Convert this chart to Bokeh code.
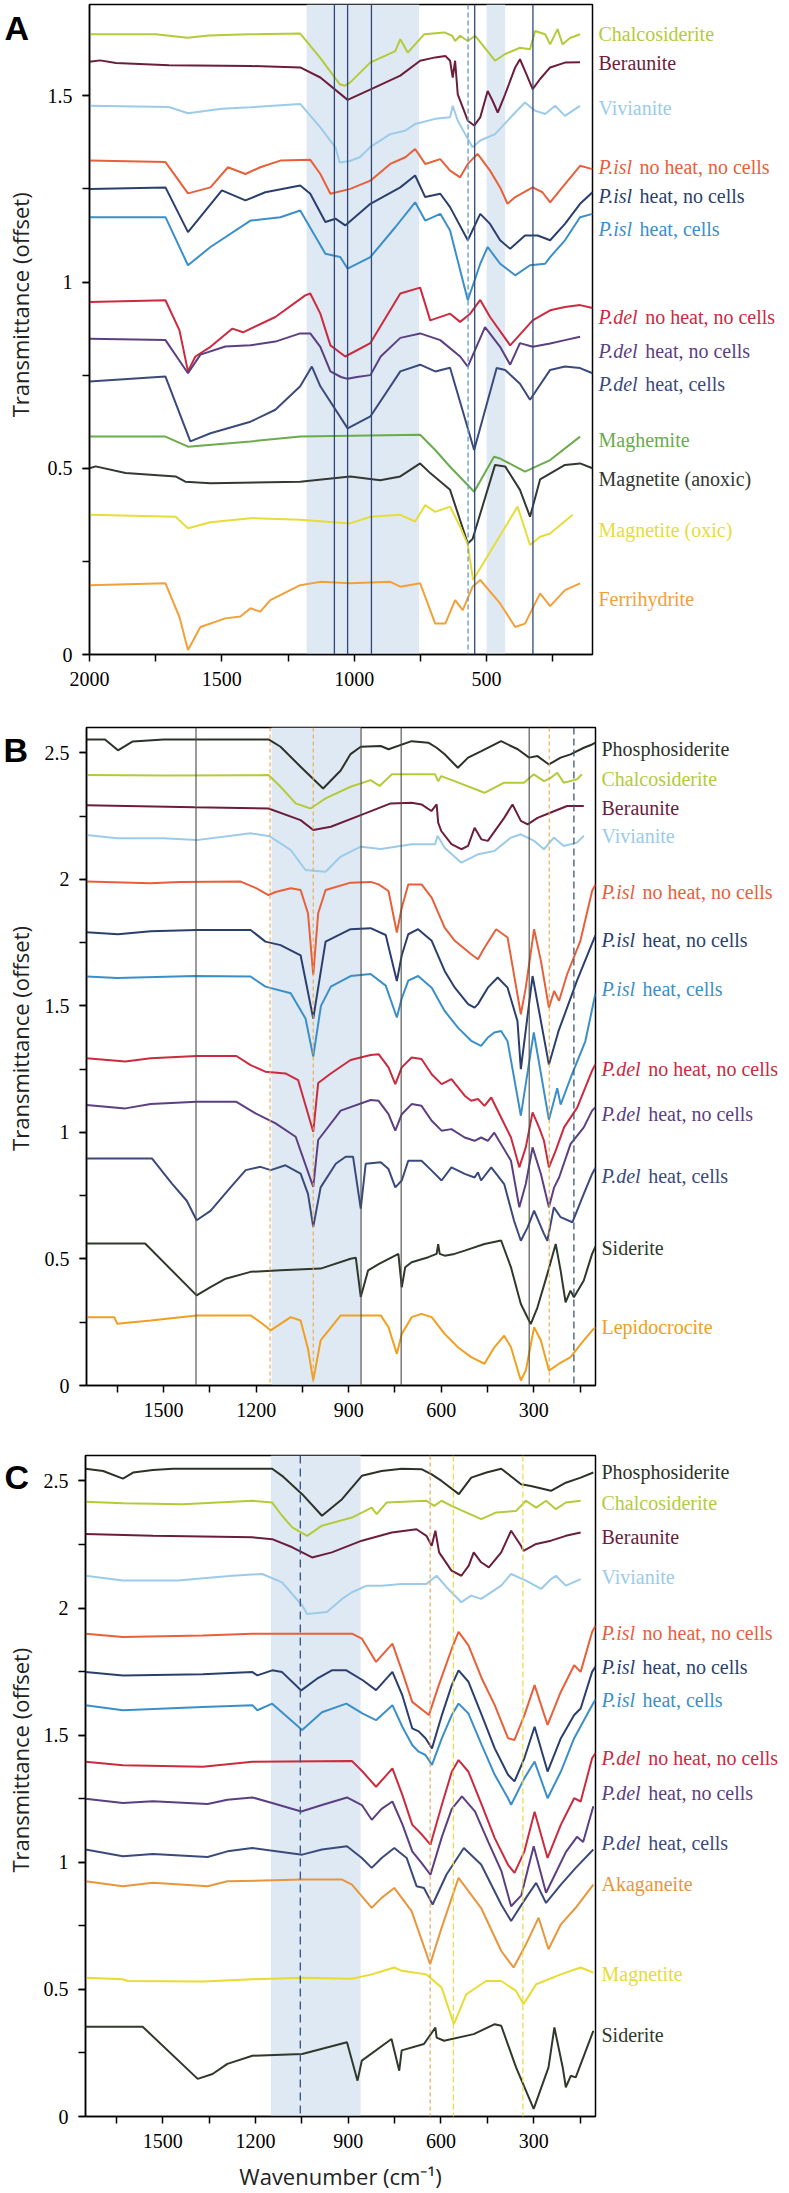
import math
from bokeh.plotting import figure
from bokeh.layouts import column, row
from bokeh.models import Range1d, FixedTicker, CustomJSTickFormatter, Span
from bokeh.core.properties import value
from bokeh.embed import file_html
from bokeh.resources import INLINE

# ======================= DATA (wavenumber cm-1, transmittance offset) =======================
# ---- Panel A ----
A_CHALCOSIDERITE = [(2000,1.665),(1750,1.665),(1630,1.656),(1550,1.662),(1400,1.665),(1204,1.667),(1130,1.603),(1055,1.531),(1035,1.527),(1015,1.536),(940,1.589),(845,1.62),(826,1.652),(798,1.616),(736,1.665),(660,1.670),(630,1.661),(619,1.647),(600,1.661),(571,1.647),(543,1.661),(468,1.594),(430,1.612),(374,1.629),(336,1.625),(317,1.674),(279,1.665),(260,1.638),(232,1.679),(213,1.638),(185,1.655),(147,1.665)]
A_BERAUNITE = [(2000,1.591),(1960,1.595),(1900,1.588),(1700,1.582),(1392,1.580),(1204,1.576),(1128,1.549),(1025,1.489),(936,1.518),(826,1.554),(751,1.594),(694,1.603),(656,1.607),(638,1.594),(628,1.549),(619,1.594),(609,1.504),(571,1.433),(547,1.42),(524,1.442),(496,1.513),(477,1.486),(458,1.455),(430,1.504),(392,1.576),(374,1.598),(355,1.567),(326,1.518),(298,1.545),(260,1.576),(204,1.589),(147,1.59)]
A_VIVIANITE = [(2000,1.473),(1700,1.47),(1628,1.453),(1500,1.465),(1392,1.469),(1204,1.478),(1128,1.415),(1070,1.36),(1055,1.321),(1017,1.325),(979,1.335),(940,1.362),(864,1.397),(808,1.406),(770,1.424),(694,1.438),(638,1.442),(628,1.473),(609,1.433),(581,1.397),(553,1.362),(524,1.38),(468,1.397),(392,1.455),(355,1.482),(317,1.46),(279,1.451),(241,1.473),(204,1.446),(166,1.464),(147,1.473)]
A_PISL_NOHEAT_NOCELLS = [(2000,1.326),(1713,1.322),(1628,1.238),(1543,1.254),(1477,1.308),(1411,1.29),(1355,1.308),(1279,1.326),(1166,1.328),(1128,1.29),(1090,1.237),(1015,1.25),(939,1.272),(864,1.317),(807,1.335),(770,1.357),(732,1.317),(675,1.33),(638,1.299),(600,1.281),(571,1.317),(534,1.344),(487,1.299),(449,1.254),(421,1.21),(392,1.228),(326,1.254),(289,1.241),(260,1.214),(204,1.263),(147,1.312),(100,1.303)]
A_PISL_HEAT_NOCELLS = [(2000,1.25),(1713,1.254),(1628,1.134),(1500,1.246),(1411,1.219),(1336,1.241),(1204,1.259),(1166,1.237),(1109,1.161),(1071,1.17),(1034,1.152),(939,1.21),(826,1.254),(770,1.286),(732,1.228),(675,1.237),(638,1.201),(571,1.112),(524,1.183),(487,1.156),(449,1.112),(411,1.089),(355,1.125),(307,1.125),(260,1.112),(204,1.156),(147,1.21),(100,1.241)]
A_PISL_HEAT_CELLS = [(2000,1.174),(1713,1.174),(1628,1.045),(1543,1.094),(1392,1.165),(1279,1.174),(1204,1.192),(1109,1.076),(1053,1.067),(1025,1.036),(939,1.067),(845,1.147),(770,1.214),(732,1.165),(675,1.183),(638,1.138),(571,0.951),(524,1.049),(496,1.094),(449,1.049),(392,1.018),(336,1.045),(279,1.049),(260,1.067),(204,1.112),(147,1.174),(100,1.183)]
A_PDEL_NOHEAT_NOCELLS = [(2000,0.946),(1713,0.951),(1660,0.87),(1628,0.76),(1600,0.80),(1543,0.826),(1460,0.875),(1420,0.865),(1298,0.906),(1185,0.964),(1166,0.969),(1128,0.915),(1090,0.83),(1034,0.80),(939,0.836),(826,0.969),(751,0.985),(713,0.897),(638,0.915),(600,0.893),(562,0.915),(524,0.952),(487,0.906),(411,0.83),(326,0.897),(260,0.924),(204,0.933),(147,0.938),(100,0.93)]
A_PDEL_HEAT_NOCELLS = [(2000,0.848),(1713,0.844),(1628,0.755),(1581,0.805),(1487,0.827),(1392,0.83),(1298,0.84),(1204,0.862),(1166,0.862),(1128,0.826),(1090,0.76),(1050,0.745),(1025,0.74),(990,0.745),(939,0.75),(900,0.80),(826,0.85),(751,0.862),(675,0.844),(600,0.80),(571,0.773),(506,0.879),(449,0.826),(411,0.778),(374,0.836),(326,0.826),(260,0.835),(204,0.844),(147,0.853)]
A_PDEL_HEAT_CELLS = [(2000,0.733),(1713,0.746),(1619,0.572),(1543,0.594),(1392,0.625),(1298,0.657),(1204,0.72),(1160,0.773),(1128,0.72),(1025,0.607),(939,0.639),(826,0.76),(751,0.778),(694,0.76),(638,0.77),(547,0.549),(462,0.769),(430,0.764),(374,0.727),(336,0.684),(260,0.764),(204,0.773),(147,0.769),(100,0.755)]
A_MAGHEMITE = [(2000,0.585),(1713,0.585),(1628,0.558),(1392,0.572),(1204,0.585),(751,0.59),(694,0.549),(638,0.504),(547,0.437),(472,0.531),(449,0.526),(355,0.491),(260,0.522),(147,0.585)]
A_MAGNETITE_ANOXIC = [(2000,0.5),(1977,0.505),(1864,0.487),(1675,0.478),(1638,0.464),(1543,0.46),(1204,0.464),(1015,0.478),(902,0.468),(826,0.478),(751,0.513),(713,0.487),(638,0.442),(571,0.298),(553,0.31),(468,0.509),(430,0.505),(374,0.442),(336,0.37),(298,0.47),(204,0.509),(147,0.513),(100,0.5)]
A_MAGNETITE_OXIC = [(2000,0.375),(1675,0.37),(1628,0.339),(1543,0.355),(1392,0.366),(1204,0.362),(1015,0.352),(939,0.37),(826,0.375),(770,0.357),(732,0.401),(694,0.383),(638,0.397),(600,0.343),(571,0.294),(551,0.20),(383,0.397),(336,0.294),(298,0.316),(260,0.325),(175,0.375)]
A_FERRIHYDRITE = [(2000,0.186),(1713,0.191),(1660,0.1),(1628,0.012),(1581,0.074),(1487,0.097),(1430,0.102),(1392,0.124),(1355,0.115),(1317,0.146),(1204,0.186),(1128,0.195),(1015,0.191),(864,0.195),(826,0.182),(751,0.191),(694,0.083),(656,0.083),(619,0.146),(590,0.119),(553,0.182),(524,0.2),(449,0.137),(392,0.074),(355,0.083),(298,0.164),(260,0.13),(204,0.173),(147,0.191)]

# ---- Panel B ----
B_PHOSPHOSIDERITE = [(1750,2.553),(1690,2.553),(1648,2.51),(1600,2.545),(1500,2.553),(1160,2.553),(1121,2.524),(1056,2.445),(983,2.359),(926,2.43),(894,2.495),(861,2.524),(796,2.527),(771,2.514),(696,2.546),(642,2.54),(615,2.52),(589,2.494),(546,2.441),(513,2.481),(470,2.507),(406,2.546),(352,2.514),(315,2.481),(288,2.487),(251,2.454),(213,2.481),(181,2.494),(138,2.520),(111,2.533),(100,2.54)]
B_CHALCOSIDERITE = [(1750,2.412),(1500,2.41),(1160,2.412),(1121,2.366),(1072,2.30),(1024,2.28),(975,2.32),(894,2.366),(829,2.392),(800,2.369),(760,2.415),(620,2.415),(610,2.388),(600,2.408),(557,2.388),(460,2.342),(396,2.382),(332,2.382),(300,2.415),(267,2.388),(246,2.40),(224,2.421),(203,2.382),(160,2.395),(144,2.415)]
B_BERAUNITE = [(1750,2.293),(1400,2.285),(1160,2.28),(1056,2.234),(1015,2.195),(958,2.208),(861,2.254),(764,2.30),(696,2.303),(664,2.296),(632,2.27),(615,2.296),(610,2.224),(600,2.191),(567,2.139),(535,2.119),(513,2.132),(492,2.204),(470,2.158),(449,2.152),(396,2.243),(369,2.296),(342,2.231),(320,2.217),(288,2.243),(245,2.264),(192,2.290),(138,2.29)]
B_VIVIANITE = [(1750,2.175),(1650,2.162),(1500,2.162),(1393,2.155),(1218,2.182),(1156,2.17),(1088,2.116),(1040,2.037),(975,2.03),(926,2.09),(861,2.129),(796,2.12),(696,2.139),(620,2.139),(612,2.172),(589,2.125),(535,2.066),(481,2.099),(428,2.112),(374,2.165),(342,2.178),(299,2.152),(267,2.119),(235,2.165),(203,2.132),(160,2.145),(138,2.172)]
B_PISL_NOHEAT_NOCELLS = [(1750,1.991),(1542,1.985),(1450,1.99),(1250,1.991),(1200,1.965),(1160,1.938),(1137,1.95),(1088,1.965),(1056,1.958),(1032,1.866),(1015,1.622),(999,1.866),(975,1.958),(894,1.987),(829,1.99),(803,1.98),(771,1.954),(744,1.79),(728,1.888),(707,1.98),(664,1.98),(631,1.928),(589,1.809),(556,1.757),(503,1.704),(481,1.684),(460,1.73),(422,1.803),(385,1.77),(342,1.467),(326,1.572),(299,1.803),(277,1.678),(251,1.493),(234,1.559),(218,1.52),(192,1.625),(149,1.757),(111,1.954),(100,1.98)]
B_PISL_HEAT_NOCELLS = [(1750,1.791),(1648,1.783),(1542,1.795),(1393,1.8),(1218,1.80),(1170,1.754),(1121,1.74),(1056,1.70),(1015,1.45),(975,1.754),(894,1.803),(829,1.807),(780,1.78),(744,1.598),(728,1.70),(707,1.783),(675,1.803),(631,1.757),(589,1.638),(556,1.572),(513,1.507),(492,1.493),(481,1.507),(449,1.572),(417,1.612),(385,1.572),(353,1.44),(342,1.25),(304,1.618),(251,1.268),(220,1.40),(160,1.60),(100,1.78)]
B_PISL_HEAT_CELLS = [(1750,1.616),(1650,1.61),(1400,1.618),(1218,1.616),(1170,1.576),(1088,1.55),(1040,1.45),(1015,1.30),(990,1.50),(958,1.576),(894,1.618),(829,1.626),(780,1.58),(744,1.454),(728,1.53),(707,1.60),(675,1.618),(631,1.572),(589,1.48),(546,1.414),(503,1.362),(471,1.342),(449,1.375),(428,1.395),(406,1.401),(385,1.36),(342,1.066),(300,1.395),(251,1.05),(224,1.175),(213,1.11),(176,1.23),(133,1.36),(100,1.55)]
B_PDEL_NOHEAT_NOCELLS = [(1750,1.293),(1624,1.28),(1542,1.293),(1393,1.302),(1264,1.302),(1218,1.266),(1170,1.24),(1105,1.233),(1064,1.207),(1015,1.003),(999,1.195),(958,1.233),(894,1.286),(829,1.306),(803,1.309),(771,1.257),(749,1.191),(728,1.257),(696,1.296),(664,1.29),(631,1.23),(599,1.191),(567,1.211),(524,1.145),(503,1.125),(481,1.132),(460,1.105),(438,1.138),(406,1.059),(374,0.98),(347,0.862),(326,0.941),(304,1.079),(283,1.02),(267,0.967),(251,0.862),(229,0.928),(202,1.02),(159,1.099),(111,1.244),(100,1.27)]
B_PDEL_HEAT_NOCELLS = [(1750,1.108),(1624,1.095),(1542,1.112),(1393,1.121),(1264,1.121),(1202,1.075),(1137,1.036),(1072,0.983),(1015,0.785),(999,0.97),(926,1.086),(829,1.128),(803,1.125),(771,1.072),(749,1.007),(728,1.072),(696,1.112),(664,1.105),(631,1.046),(599,1.007),(567,1.013),(524,0.98),(492,0.967),(471,0.98),(449,0.967),(428,0.999),(374,0.888),(347,0.704),(326,0.796),(304,0.941),(277,0.836),(251,0.704),(234,0.783),(218,0.822),(181,0.954),(138,1.02),(111,1.086),(100,1.10)]
B_PDEL_HEAT_CELLS = [(1750,0.897),(1600,0.897),(1538,0.897),(1473,0.798),(1425,0.73),(1393,0.653),(1348,0.69),(1283,0.783),(1234,0.851),(1186,0.864),(1153,0.851),(1105,0.87),(1056,0.837),(1032,0.757),(1015,0.627),(991,0.783),(942,0.876),(910,0.904),(886,0.904),(861,0.699),(845,0.876),(796,0.882),(771,0.855),(749,0.783),(728,0.81),(707,0.888),(664,0.888),(631,0.849),(599,0.81),(567,0.862),(524,0.836),(492,0.822),(481,0.842),(471,0.81),(438,0.862),(396,0.796),(364,0.651),(342,0.572),(320,0.625),(299,0.691),(267,0.599),(256,0.572),(235,0.704),(213,0.665),(175,0.645),(138,0.757),(111,0.836),(100,0.86)]
B_SIDERITE = [(1750,0.561),(1560,0.561),(1393,0.356),(1348,0.389),(1299,0.422),(1218,0.449),(1121,0.455),(991,0.462),(894,0.501),(877,0.505),(861,0.35),(837,0.455),(803,0.48),(739,0.52),(728,0.388),(717,0.467),(696,0.487),(642,0.507),(615,0.52),(610,0.559),(605,0.52),(589,0.513),(557,0.52),(524,0.533),(460,0.559),(406,0.573),(374,0.467),(342,0.322),(310,0.243),(288,0.309),(256,0.441),(229,0.559),(213,0.454),(197,0.329),(181,0.375),(170,0.349),(138,0.415),(111,0.52),(100,0.55)]
B_LEPIDOCROCITE = [(1750,0.27),(1660,0.27),(1650,0.244),(1542,0.257),(1393,0.277),(1218,0.277),(1186,0.25),(1153,0.218),(1088,0.27),(1056,0.257),(1032,0.145),(1015,0.02),(991,0.178),(926,0.277),(796,0.277),(771,0.23),(744,0.125),(728,0.204),(696,0.27),(664,0.283),(631,0.27),(589,0.204),(546,0.151),(503,0.112),(460,0.086),(428,0.151),(396,0.197),(374,0.151),(342,0.02),(326,0.059),(299,0.23),(277,0.178),(251,0.059),(218,0.086),(181,0.112),(138,0.178),(111,0.217),(100,0.23)]

# ---- Panel C ----
C_PHOSPHOSIDERITE = [(1750,2.548),(1693,2.539),(1629,2.509),(1596,2.533),(1532,2.543),(1468,2.548),(1146,2.548),(1114,2.52),(1049,2.448),(985,2.363),(920,2.428),(856,2.52),(792,2.539),(727,2.548),(663,2.546),(630,2.526),(598,2.5),(542,2.448),(502,2.513),(453,2.533),(405,2.548),(341,2.487),(309,2.48),(244,2.461),(196,2.493),(148,2.513),(107,2.533)]
C_CHALCOSIDERITE = [(1750,2.418),(1629,2.412),(1436,2.408),(1210,2.422),(1146,2.415),(1114,2.363),(1081,2.317),(1033,2.284),(985,2.324),(888,2.356),(824,2.395),(808,2.369),(776,2.415),(647,2.422),(622,2.402),(598,2.422),(566,2.402),(470,2.35),(421,2.376),(357,2.382),(325,2.422),(292,2.395),(260,2.422),(228,2.389),(196,2.415),(148,2.422)]
C_BERAUNITE = [(1750,2.291),(1532,2.284),(1210,2.278),(1146,2.271),(1081,2.239),(1017,2.199),(953,2.219),(856,2.265),(759,2.297),(679,2.31),(647,2.284),(630,2.245),(618,2.304),(606,2.219),(566,2.147),(534,2.127),(510,2.167),(494,2.219),(470,2.18),(445,2.16),(405,2.219),(373,2.304),(341,2.245),(333,2.225),(292,2.252),(244,2.265),(196,2.284),(148,2.297)]
C_VIVIANITE = [(1750,2.127),(1629,2.108),(1452,2.108),(1275,2.127),(1178,2.134),(1114,2.101),(1049,2.01),(1033,1.977),(969,1.984),(920,2.036),(888,2.062),(840,2.088),(792,2.088),(727,2.095),(647,2.095),(614,2.127),(582,2.082),(534,2.023),(502,2.049),(470,2.036),(405,2.088),(373,2.134),(325,2.108),(276,2.075),(244,2.114),(228,2.127),(196,2.088),(148,2.114)]
C_PISL_NOHEAT_NOCELLS = [(1750,1.899),(1629,1.886),(1371,1.892),(1210,1.899),(888,1.899),(856,1.88),(810,1.788),(757,1.86),(725,1.749),(693,1.631),(639,1.579),(607,1.697),(565,1.84),(543,1.906),(511,1.853),(468,1.723),(426,1.618),(383,1.488),(362,1.481),(330,1.579),(297,1.697),(255,1.54),(212,1.671),(169,1.775),(148,1.749),(111,1.906),(100,1.93)]
C_PISL_HEAT_NOCELLS = [(1750,1.748),(1629,1.735),(1371,1.74),(1210,1.748),(1194,1.735),(1146,1.755),(1114,1.748),(1052,1.676),(1001,1.722),(953,1.755),(906,1.755),(853,1.716),(810,1.677),(757,1.749),(725,1.657),(693,1.527),(672,1.515),(650,1.488),(629,1.448),(597,1.579),(565,1.697),(543,1.755),(511,1.71),(468,1.579),(426,1.448),(383,1.344),(362,1.318),(330,1.41),(297,1.533),(255,1.357),(212,1.488),(169,1.579),(148,1.605),(111,1.749),(100,1.77)]
C_PISL_HEAT_CELLS = [(1750,1.618),(1629,1.598),(1371,1.611),(1210,1.618),(1194,1.598),(1146,1.624),(1049,1.52),(985,1.59),(920,1.618),(906,1.624),(853,1.585),(810,1.559),(757,1.618),(725,1.533),(693,1.461),(672,1.435),(650,1.422),(629,1.383),(597,1.488),(565,1.579),(543,1.624),(511,1.585),(468,1.461),(426,1.344),(383,1.252),(373,1.226),(330,1.331),(297,1.396),(255,1.252),(212,1.357),(169,1.488),(111,1.618),(100,1.64)]
C_PDEL_NOHEAT_NOCELLS = [(1750,1.395),(1629,1.382),(1371,1.376),(1210,1.395),(888,1.398),(853,1.356),(810,1.297),(757,1.369),(725,1.265),(693,1.148),(661,1.108),(634,1.069),(597,1.226),(565,1.356),(543,1.402),(511,1.356),(468,1.226),(426,1.095),(383,0.99),(362,0.958),(330,1.043),(297,1.199),(255,1.017),(212,1.148),(169,1.252),(148,1.239),(111,1.409),(100,1.43)]
C_PDEL_HEAT_NOCELLS = [(1750,1.25),(1629,1.233),(1532,1.24),(1355,1.229),(1291,1.246),(1210,1.255),(1146,1.233),(1052,1.2),(985,1.225),(904,1.255),(856,1.225),(824,1.167),(792,1.21),(757,1.239),(725,1.15),(693,1.043),(661,0.995),(634,0.951),(597,1.10),(565,1.21),(532,1.259),(490,1.20),(447,1.08),(404,0.964),(373,0.827),(340,0.87),(300,1.063),(260,0.88),(228,0.96),(196,1.04),(160,1.10),(140,1.08),(107,1.22)]
C_PDEL_HEAT_CELLS = [(1750,1.05),(1629,1.024),(1532,1.033),(1355,1.021),(1291,1.043),(1210,1.056),(1049,1.03),(985,1.05),(904,1.063),(856,1.017),(824,0.978),(792,1.017),(751,1.056),(711,1.017),(679,0.906),(655,0.899),(627,0.834),(582,0.952),(526,1.056),(470,0.991),(405,0.834),(373,0.769),(325,0.86),(292,0.919),(260,0.84),(212,0.912),(164,0.978),(107,1.05)]
C_AKAGANEITE = [(1750,0.925),(1629,0.906),(1532,0.919),(1355,0.906),(1291,0.925),(1049,0.932),(920,0.932),(888,0.912),(824,0.821),(792,0.86),(751,0.899),(695,0.808),(635,0.599),(598,0.742),(543,0.939),(470,0.82),(405,0.651),(365,0.586),(325,0.677),(284,0.782),(252,0.658),(212,0.756),(164,0.821),(107,0.912)]
C_MAGNETITE = [(1750,0.546),(1629,0.54),(1613,0.533),(1371,0.531),(1210,0.54),(1049,0.546),(888,0.542),(824,0.559),(751,0.586),(727,0.573),(647,0.559),(598,0.507),(558,0.363),(518,0.481),(454,0.533),(405,0.533),(357,0.494),(333,0.442),(292,0.52),(212,0.559),(148,0.586),(107,0.566)]
C_SIDERITE = [(1750,0.353),(1565,0.353),(1387,0.148),(1339,0.167),(1291,0.207),(1210,0.239),(1049,0.246),(904,0.292),(870,0.141),(856,0.22),(760,0.305),(735,0.18),(727,0.26),(655,0.285),(618,0.35),(614,0.31),(590,0.298),(494,0.324),(426,0.363),(405,0.357),(357,0.193),(300,0.03),(252,0.193),(233,0.35),(206,0.193),(196,0.115),(180,0.16),(164,0.154),(107,0.337)]

# shaded bands (wavenumber ranges) and marker lines
A_BANDS = [(1180, 755), (500, 430)]
A_SOLID_LINES = [1075, 1025, 935, 545, 325]
A_DASHED_LINES = [570]
B_BANDS = [(1150, 860)]
B_SOLID_LINES = [1395, 860, 730, 315]
B_ORANGE_DASHED = [1155, 1015, 250]
B_BLUE_DASHED = [170]
C_BANDS = [(1150, 860)]
C_BLUE_DASHED = [1055]
C_ORANGE_DASHED = [635]
C_YELLOW_DASHED = [560, 335]

# ======================= STYLE =======================
COL = {
    "chalco": "#b3cb3b", "beraun": "#6c1d3b", "vivian": "#9ccbea",
    "pisl1": "#e8603a", "pisl2": "#2b3f6e", "pisl3": "#3b8fc9",
    "pdel1": "#cc2a3f", "pdel2": "#5c3f82", "pdel3": "#3b4a7c",
    "maghem": "#6aab4c", "magan": "#323832", "magox": "#e6dc3a", "ferri": "#f2a03a",
    "phos": "#2d3229", "sider": "#2f392a", "lepido": "#f0a020", "akag": "#e8963c",
    "magc": "#e8dc30",
}
BAND_COLOR = "#dfe9f3"

A_SERIES = [
    ("", "Chalcosiderite", A_CHALCOSIDERITE, "chalco", 1.667),
    ("", "Beraunite", A_BERAUNITE, "beraun", 1.587),
    ("", "Vivianite", A_VIVIANITE, "vivian", 1.466),
    ("P.isl", "no heat, no cells", A_PISL_NOHEAT_NOCELLS, "pisl1", 1.308),
    ("P.isl", "heat, no cells", A_PISL_HEAT_NOCELLS, "pisl2", 1.231),
    ("P.isl", "heat, cells", A_PISL_HEAT_CELLS, "pisl3", 1.142),
    ("P.del", "no heat, no cells", A_PDEL_NOHEAT_NOCELLS, "pdel1", 0.906),
    ("P.del", "heat, no cells", A_PDEL_HEAT_NOCELLS, "pdel2", 0.815),
    ("P.del", "heat, cells", A_PDEL_HEAT_CELLS, "pdel3", 0.727),
    ("", "Maghemite", A_MAGHEMITE, "maghem", 0.576),
    ("", "Magnetite (anoxic)", A_MAGNETITE_ANOXIC, "magan", 0.472),
    ("", "Magnetite (oxic)", A_MAGNETITE_OXIC, "magox", 0.335),
    ("", "Ferrihydrite", A_FERRIHYDRITE, "ferri", 0.150),
]
B_SERIES = [
    ("", "Phosphosiderite", B_PHOSPHOSIDERITE, "phos", 2.516),
    ("", "Chalcosiderite", B_CHALCOSIDERITE, "chalco", 2.396),
    ("", "Beraunite", B_BERAUNITE, "beraun", 2.283),
    ("", "Vivianite", B_VIVIANITE, "vivian", 2.171),
    ("P.isl", "no heat, no cells", B_PISL_NOHEAT_NOCELLS, "pisl1", 1.950),
    ("P.isl", "heat, no cells", B_PISL_HEAT_NOCELLS, "pisl2", 1.761),
    ("P.isl", "heat, cells", B_PISL_HEAT_CELLS, "pisl3", 1.568),
    ("P.del", "no heat, no cells", B_PDEL_NOHEAT_NOCELLS, "pdel1", 1.250),
    ("P.del", "heat, no cells", B_PDEL_HEAT_NOCELLS, "pdel2", 1.072),
    ("P.del", "heat, cells", B_PDEL_HEAT_CELLS, "pdel3", 0.829),
    ("", "Siderite", B_SIDERITE, "sider", 0.543),
    ("", "Lepidocrocite", B_LEPIDOCROCITE, "lepido", 0.233),
]
C_SERIES = [
    ("", "Phosphosiderite", C_PHOSPHOSIDERITE, "phos", 2.534),
    ("", "Chalcosiderite", C_CHALCOSIDERITE, "chalco", 2.413),
    ("", "Beraunite", C_BERAUNITE, "beraun", 2.280),
    ("", "Vivianite", C_VIVIANITE, "vivian", 2.123),
    ("P.isl", "no heat, no cells", C_PISL_NOHEAT_NOCELLS, "pisl1", 1.901),
    ("P.isl", "heat, no cells", C_PISL_HEAT_NOCELLS, "pisl2", 1.770),
    ("P.isl", "heat, cells", C_PISL_HEAT_CELLS, "pisl3", 1.639),
    ("P.del", "no heat, no cells", C_PDEL_NOHEAT_NOCELLS, "pdel1", 1.409),
    ("P.del", "heat, no cells", C_PDEL_HEAT_NOCELLS, "pdel2", 1.272),
    ("P.del", "heat, cells", C_PDEL_HEAT_CELLS, "pdel3", 1.076),
    ("", "Akaganeite", C_AKAGANEITE, "akag", 0.915),
    ("", "Magnetite", C_MAGNETITE, "magc", 0.562),
    ("", "Siderite", C_SIDERITE, "sider", 0.320),
]

SERIF = "Liberation Serif"
TICK_FONT = "Liberation Serif, Times New Roman, serif"
LABEL_SIZE = 20
ITALIC_W = {"P.isl": 2.056, "P.del": 2.333}   # em widths incl. trailing space
LEFT_W = 40


def make_panel(height, x_start, x_end, y_max, frame_left, frame_right, top, bottom,
               x_major, x_minor, letter, letter_pos, series, label_gap, bands, show_xlabel):
    yr = Range1d(0, y_max)
    # ---- left strip: panel letter + y-axis title ----
    pl = figure(width=LEFT_W, height=height, x_range=Range1d(0, LEFT_W), y_range=Range1d(height, 0),
                output_backend="svg", toolbar_location=None, x_axis_type=None, y_axis_type=None,
                min_border_left=0, min_border_right=0, min_border_top=0, min_border_bottom=0)
    pl.outline_line_color = None
    pl.text(x=[letter_pos[0]], y=[letter_pos[1]], text=[letter], text_font=value("Liberation Sans"),
            text_font_style="bold", text_font_size="34px", text_color="black",
            text_baseline="top", text_align="left")
    mid = (top + (height - bottom)) / 2.0
    pl.text(x=[19], y=[mid], text=["Transmittance (offset)"], text_font=value("Open Sans"),
            text_font_size="22px", text_color="#222222", angle=math.pi / 2,
            text_baseline="middle", text_align="center")

    # ---- main plot ----
    main_w = frame_right + 2 - LEFT_W
    p = figure(width=main_w, height=height, x_range=Range1d(x_start, x_end), y_range=yr,
               output_backend="svg", toolbar_location=None,
               min_border_left=frame_left - LEFT_W, min_border_right=2,
               min_border_top=top, min_border_bottom=bottom)
    p.xgrid.visible = False
    p.ygrid.visible = False
    p.outline_line_color = "black"
    p.outline_line_width = 1.5
    p.outline_line_alpha = 1.0
    for ax in (p.xaxis[0], p.yaxis[0]):
        ax.axis_line_color = "black"
        ax.axis_line_width = 1.5
        ax.major_tick_line_width = 1.5
        ax.minor_tick_line_width = 1.5
        ax.major_tick_in = 0
        ax.minor_tick_in = 0
        ax.major_tick_out = 7
        ax.minor_tick_out = 7
        ax.major_label_text_font = TICK_FONT
        ax.major_label_text_font_size = "20px"
        ax.major_label_text_color = "black"
        ax.axis_label_text_font = "Open Sans"
        ax.axis_label_text_font_style = "normal"
        ax.axis_label_text_font_size = "22px"
        ax.axis_label_text_color = "#222222"
    p.xaxis.ticker = FixedTicker(ticks=x_major, minor_ticks=x_minor)
    y_major = [v * 0.5 for v in range(0, int(y_max / 0.5) + 1)]
    y_minor = [v * 0.25 for v in range(0, int(y_max / 0.25) + 1)]
    p.yaxis.ticker = FixedTicker(ticks=y_major, minor_ticks=y_minor)
    p.yaxis.formatter = CustomJSTickFormatter(code="return String(tick);")
    p.yaxis.major_label_standoff = 10
    p.xaxis.major_label_standoff = 10
    if show_xlabel:
        p.xaxis.axis_label = "Wavenumber (cm\u207b\u00b9)"
        p.xaxis.axis_label_standoff = 10

    for (b0, b1) in bands:
        p.quad(left=[b0], right=[b1], bottom=[0], top=[y_max], fill_color=BAND_COLOR,
               line_color=None, fill_alpha=1.0)

    # ---- right strip: series names ----
    right_w = 789 - LEFT_W - main_w
    pr = figure(width=right_w, height=height, x_range=Range1d(0, right_w), y_range=yr,
                output_backend="svg", toolbar_location=None, x_axis_type=None, y_axis_type=None,
                min_border_left=0, min_border_right=0, min_border_top=top, min_border_bottom=bottom)
    pr.outline_line_color = None

    for italic, normal, pts, ckey, ly in series:
        xs = [q[0] for q in pts]
        ys = [q[1] for q in pts]
        color = COL[ckey]
        p.line(xs, ys, line_color=color, line_width=2.0)
        off = label_gap
        if italic:
            pr.text(x=[off], y=[ly], text=[italic], text_font=value(SERIF),
                    text_font_style="italic", text_font_size=f"{LABEL_SIZE}px",
                    text_color=color, text_baseline="middle", text_align="left")
            off += ITALIC_W[italic] * LABEL_SIZE
        pr.text(x=[off], y=[ly], text=[normal], text_font=value(SERIF),
                text_font_size=f"{LABEL_SIZE}px", text_color=color,
                text_baseline="middle", text_align="left")
    return p, row(pl, p, pr, spacing=0)


pA, rowA = make_panel(712, 2000, 100, 1.745, 89, 592, 4, 58, [500, 1000, 1500, 2000],
                      [250, 750, 1250, 1750], "A", (4, 5), A_SERIES, 4, A_BANDS, False)
for w in A_SOLID_LINES:
    pA.add_layout(Span(location=w, dimension="height", line_color="#2f4a7a", line_width=1.3))
for w in A_DASHED_LINES:
    pA.add_layout(Span(location=w, dimension="height", line_color="#5b9bd0", line_width=1.3,
                       line_dash="5 3"))

pB, rowB = make_panel(728, 1750, 100, 2.6, 86, 595, 15, 55, [300, 600, 900, 1200, 1500],
                      [150, 450, 750, 1050, 1350, 1650], "B", (3, 4), B_SERIES, 4, B_BANDS, False)
for w in B_SOLID_LINES:
    pB.add_layout(Span(location=w, dimension="height", line_color="#4a4a44", line_width=1.1))
for w in B_ORANGE_DASHED:
    pB.add_layout(Span(location=w, dimension="height", line_color="#eda54a", line_width=1.1,
                       line_dash="4 3"))
for w in B_BLUE_DASHED:
    pB.add_layout(Span(location=w, dimension="height", line_color="#3d5678", line_width=1.3,
                       line_dash="7 4"))

pC, rowC = make_panel(753, 1750, 100, 2.6, 83, 595, 15, 74, [300, 600, 900, 1200, 1500],
                      [150, 450, 750, 1050, 1350, 1650], "C", (4, 3), C_SERIES, 4, C_BANDS, True)
for w in C_BLUE_DASHED:
    pC.add_layout(Span(location=w, dimension="height", line_color="#3a5a8c", line_width=1.4,
                       line_dash="8 5"))
for w in C_ORANGE_DASHED:
    pC.add_layout(Span(location=w, dimension="height", line_color="#e8a050", line_width=1.1,
                       line_dash="4 3"))
for w in C_YELLOW_DASHED:
    pC.add_layout(Span(location=w, dimension="height", line_color="#e8d84a", line_width=1.2,
                       line_dash="6 3"))

layout = column(rowA, rowB, rowC, spacing=0)
open("out.html", "w").write(file_html(layout, INLINE))
